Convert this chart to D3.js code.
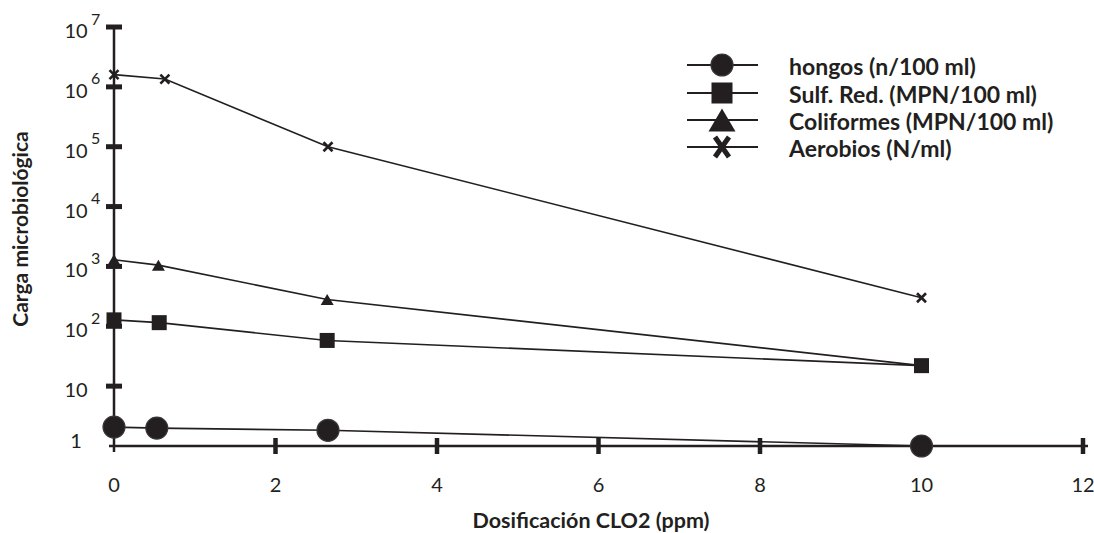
<!DOCTYPE html>
<html>
<head>
<meta charset="utf-8">
<script src="https://cdn.jsdelivr.net/npm/d3@7"></script>
<style>
  html, body { margin: 0; padding: 0; background: #ffffff; }
  svg { display: block; }
  text { font-family: Lato, "Open Sans", sans-serif; fill: #231f20; }
</style>
</head>
<body>
<svg id="chart" width="1094" height="533"></svg>
<script>
// ---- data ----
const xTickValues = [0, 2, 4, 6, 8, 10, 12];
const yTickExponents = [0, 1, 2, 3, 4, 5, 6, 7];
const seriesNames = ["hongos (n/100 ml)", "Sulf. Red. (MPN/100 ml)", "Coliformes (MPN/100 ml)", "Aerobios (N/ml)"];
const doseHongos = [0, 0.53, 2.65, 10];
const hongos = [2.07, 1.99, 1.83, 1];
const doseSulf = [0, 0.56, 2.64, 10];
const sulfRed = [128, 115, 58, 22];
const doseColi = [0, 0.55, 2.64, 10];
const coliformes = [1290, 1050, 280, 22];
const doseAero = [0, 0.63, 2.65, 10];
const aerobios = [1.6e6, 1.35e6, 1.0e5, 300];
const xTitle = "Dosificación CLO2 (ppm)";
const yTitle = "Carga microbiológica";

// ---- layout ----
const ink = "#231f20";
const svg = d3.select("#chart");
svg.append("rect").attr("width", 1094).attr("height", 533).attr("fill", "#fff");

const x = d3.scaleLinear().domain([0, 12]).range([114, 1083]);
const y = d3.scaleLog().domain([1, 1e7]).range([446, 27]);

// axes lines
svg.append("line").attr("x1", x(0)).attr("x2", x(0)).attr("y1", y(1e7)).attr("y2", y(1) + 6)
  .attr("stroke", ink).attr("stroke-width", 2.5);
svg.append("line").attr("x1", x(0) - 5).attr("x2", x(12) + 5).attr("y1", y(1)).attr("y2", y(1))
  .attr("stroke", ink).attr("stroke-width", 2.5);

// y ticks (crossing bars)
svg.append("g").selectAll("line").data(yTickExponents.filter(e => e > 0)).join("line")
  .attr("x1", x(0) - 8).attr("x2", x(0) + 8)
  .attr("y1", e => y(Math.pow(10, e))).attr("y2", e => y(Math.pow(10, e)))
  .attr("stroke", ink).attr("stroke-width", 5);

// x ticks (crossing bars)
svg.append("g").selectAll("line").data(xTickValues.filter(v => v > 0)).join("line")
  .attr("x1", v => x(v)).attr("x2", v => x(v))
  .attr("y1", y(1) - 8).attr("y2", y(1) + 8)
  .attr("stroke", ink).attr("stroke-width", 4.5);

// y tick labels
const yl = svg.append("g");
yTickExponents.forEach(e => {
  const yy = y(Math.pow(10, e));
  yl.append("text").attr("x", 76).attr("y", e === 0 ? yy - 6 : yy + 3)
    .attr("text-anchor", "middle").attr("dominant-baseline", "central")
    .attr("font-size", 20).text(e === 0 ? "1" : "10");
  if (e > 1) {
    yl.append("text").attr("x", 91).attr("y", yy - 9)
      .attr("text-anchor", "start").attr("dominant-baseline", "central")
      .attr("font-size", 16).text(String(e));
  }
});

// x tick labels
svg.append("g").selectAll("text").data(xTickValues).join("text")
  .attr("x", v => x(v)).attr("y", 492)
  .attr("text-anchor", "middle").attr("font-size", 20).text(v => String(v));

// axis titles
svg.append("text").attr("x", 591).attr("y", 528).attr("text-anchor", "middle")
  .attr("font-size", 21.5).attr("font-weight", 700).text(xTitle);
svg.append("text").attr("transform", "translate(28,229) rotate(-90)").attr("text-anchor", "middle")
  .attr("font-size", 21).attr("font-weight", 700).text(yTitle);

// series
const series = [
  { name: seriesNames[0], xs: doseHongos, ys: hongos, shape: "circle" },
  { name: seriesNames[1], xs: doseSulf, ys: sulfRed, shape: "square" },
  { name: seriesNames[2], xs: doseColi, ys: coliformes, shape: "triangle" },
  { name: seriesNames[3], xs: doseAero, ys: aerobios, shape: "cross" }
];

const line = d3.line().x(d => x(d[0])).y(d => y(d[1]));
series.forEach(s => {
  svg.append("path").attr("d", line(s.xs.map((v, i) => [v, s.ys[i]])))
    .attr("fill", "none").attr("stroke", ink).attr("stroke-width", 1.6);
});

function drawMarker(g, shape, cx, cy, big) {
  if (shape === "circle") {
    const r = 11;
    g.append("circle").attr("cx", cx).attr("cy", cy).attr("r", r)
      .attr("fill", ink).attr("stroke", "#3a3637").attr("stroke-width", 1.2);
  } else if (shape === "square") {
    const s = big ? 21 : 15;
    g.append("rect").attr("x", cx - s / 2).attr("y", cy - s / 2).attr("width", s).attr("height", s).attr("fill", ink);
  } else if (shape === "triangle") {
    const w = big ? 27 : 13, h = big ? 23 : 11;
    g.append("path").attr("d", `M${cx - w / 2},${cy + h / 2}L${cx + w / 2},${cy + h / 2}L${cx},${cy - h / 2}Z`).attr("fill", ink);
  } else {
    const w = big ? 7 : 4.5, h = big ? 10 : 4.5;
    g.append("path").attr("d", `M${cx - w},${cy - h}L${cx + w},${cy + h}M${cx + w},${cy - h}L${cx - w},${cy + h}`)
      .attr("stroke", ink).attr("stroke-width", big ? 5 : 2.6).attr("fill", "none");
  }
}

const markerOrder = [2, 1, 0, 3];
markerOrder.forEach(k => {
  const s = series[k];
  const g = svg.append("g");
  s.xs.forEach((v, i) => drawMarker(g, s.shape, x(v), y(s.ys[i]), false));
});

// legend
const legendRows = [65, 93, 120, 147];
const lg = svg.append("g");
series.forEach((s, i) => {
  const ly = legendRows[i];
  lg.append("line").attr("x1", 687).attr("x2", 758).attr("y1", ly).attr("y2", ly)
    .attr("stroke", ink).attr("stroke-width", 2);
  drawMarker(lg, s.shape, 722, ly, true);
  lg.append("text").attr("x", 789).attr("y", ly + 9.5).attr("font-size", 23)
    .attr("font-weight", 700).text(s.name);
});
</script>
</body>
</html>
